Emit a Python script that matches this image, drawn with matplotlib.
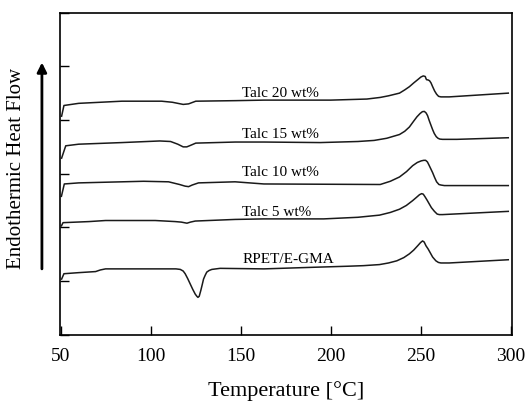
import numpy as np
import matplotlib
matplotlib.use("Agg")
import matplotlib.pyplot as plt

plt.rcParams['font.family'] = ['Liberation Serif', 'DejaVu Serif']

# DSC heating scans, temperature in deg C, heat flow in offset units
t_neat = [50.5, 51.8, 60, 69.4, 72, 74.9, 109.9, 114, 116.4, 118, 119.1, 120.5, 121.9,
          123.3, 124.7, 125.6, 126.2, 126.9, 127.8, 128.6, 129.3, 130.2, 131.1, 132.4,
          133.9, 138.5, 162.8, 190.5, 210, 218.1, 227, 232, 236.6, 240.5, 243.6, 246,
          248.2, 249.8, 250.9, 251.8, 252.8, 254.0, 255.0, 256.5, 258.3, 259.7, 261.1,
          265.7, 298.5]
hf_neat = [1.04, 1.14, 1.16, 1.18, 1.21, 1.23, 1.23, 1.23, 1.22, 1.19, 1.14, 1.05, 0.95,
           0.85, 0.76, 0.72, 0.70, 0.72, 0.83, 0.94, 1.04, 1.11, 1.17, 1.20,
           1.22, 1.24, 1.23, 1.26, 1.28, 1.29, 1.31, 1.34, 1.38, 1.44, 1.51, 1.58,
           1.66, 1.72, 1.75, 1.73, 1.66, 1.60, 1.54, 1.45, 1.38, 1.35, 1.34,
           1.34, 1.40]

t_talc5 = [50.4, 51.3, 65.7, 74.9, 102.5, 113.6, 117, 120.1, 122, 124.7, 146.8, 162.8,
           196, 215, 227, 233, 238.1, 241.9, 245.4, 247.5, 249.2, 250.4, 251.3, 252.3,
           253.4, 254.6, 255.8, 257.5, 259, 260.2, 262, 298.5]
hf_talc5 = [2.03, 2.09, 2.11, 2.13, 2.13, 2.11, 2.10, 2.08, 2.10, 2.12, 2.15, 2.16,
            2.16, 2.19, 2.23, 2.28, 2.34, 2.41, 2.50, 2.56, 2.61, 2.63, 2.62, 2.57,
            2.51, 2.44, 2.37, 2.30, 2.25, 2.24, 2.24, 2.30]

t_talc10 = [50.4, 52.0, 60, 96, 109.9, 116, 119, 121.0, 123, 126.5, 146.8, 162.8, 227.4,
            233, 238.1, 242, 245.4, 248, 250.2, 251.6, 252.6, 253.6, 254.5, 255.5,
            256.5, 257.6, 258.7, 260, 261.1, 263, 298.5]
hf_talc10 = [2.58, 2.81, 2.83, 2.86, 2.85, 2.80, 2.77, 2.76, 2.79, 2.83, 2.85, 2.81, 2.80,
             2.86, 2.94, 3.04, 3.15, 3.21, 3.24, 3.25, 3.25, 3.22, 3.16, 3.09,
             3.02, 2.93, 2.85, 2.80, 2.79, 2.78, 2.78]

t_talc15 = [50.5, 52.8, 60, 84, 105, 111, 115, 118, 120, 121.5, 125, 147, 163, 194, 215,
            224, 231, 238.1, 241, 243.6, 246, 247.8, 249.5, 250.8, 251.9, 252.9, 253.7,
            254.6, 255.6, 256.5, 257.4, 258.5, 259.5, 260.5, 262, 270, 298.5]
hf_talc15 = [3.29, 3.52, 3.55, 3.58, 3.61, 3.60, 3.55, 3.50, 3.50, 3.52, 3.57, 3.59,
             3.59, 3.58, 3.60, 3.62, 3.66, 3.73, 3.79, 3.87, 3.98, 4.06, 4.12, 4.155,
             4.16, 4.13, 4.08, 3.99, 3.90, 3.82, 3.75, 3.69, 3.66, 3.645, 3.64, 3.64,
             3.67]

t_talc20 = [50.5, 51.8, 60, 84, 106, 112, 118, 121, 125, 147, 163, 200, 220, 227.4,
            232, 238.1, 241, 243.6, 246, 248.2, 250, 251.3, 252.4, 252.7, 253.1, 254.0,
            254.8, 255.6, 256.5, 257.6, 258.7, 259.8, 261.1, 265.7, 298.5]
hf_talc20 = [4.07, 4.27, 4.31, 4.35, 4.35, 4.33, 4.29, 4.30, 4.35, 4.36, 4.37, 4.37,
             4.39, 4.42, 4.45, 4.50, 4.56, 4.62, 4.69, 4.75, 4.80, 4.82, 4.81, 4.78,
             4.75, 4.745, 4.73, 4.69, 4.62, 4.54, 4.48, 4.44, 4.43, 4.43, 4.50]

labels = ['RPET/E-GMA', 'Talc 5 wt%', 'Talc 10 wt%', 'Talc 15 wt%', 'Talc 20 wt%']
label_y = [1.42, 2.29, 3.04, 3.75, 4.51]
label_x = 150.7

xticks = [50, 100, 150, 200, 250, 300]

fig = plt.figure(figsize=(5.28, 4.02), dpi=100)
ax = fig.add_axes([0.1136, 0.1642, 0.8552, 0.8022])

curves = [(t_neat, hf_neat), (t_talc5, hf_talc5), (t_talc10, hf_talc10),
          (t_talc15, hf_talc15), (t_talc20, hf_talc20)]
for t, hf in curves:
    ax.plot(t, hf, color='#1a1a1a', lw=1.1, solid_joinstyle='round')

for lab, ly in zip(labels, label_y):
    ax.text(label_x, ly, lab, fontsize=11, ha='left', va='center')

ax.set_xlim(49.6, 300.3)
ax.set_ylim(0, 6)
ax.set_xticks(xticks)
ax.set_yticks(np.arange(0, 7))
ax.set_yticklabels([])
ax.tick_params(axis='both', direction='in', length=6.5, width=1.0)
ax.tick_params(axis='x', labelsize=14, pad=9)
for s in ax.spines.values():
    s.set_linewidth(1.2)

ax.set_xlabel('Temperature [°C]', fontsize=16, labelpad=11)
fig.text(0.032, 0.582, 'Endothermic Heat Flow', rotation=90, fontsize=15,
         ha='center', va='center')

# arrow pointing up (endothermic direction)
ax.annotate('', xy=(-0.04, 0.845), xytext=(-0.04, 0.205),
            xycoords='axes fraction', textcoords='axes fraction',
            arrowprops=dict(arrowstyle='-|>', color='black', lw=2.0,
                            mutation_scale=14, shrinkA=0, shrinkB=0),
            annotation_clip=False)

fig.savefig('out.png', dpi=100)
